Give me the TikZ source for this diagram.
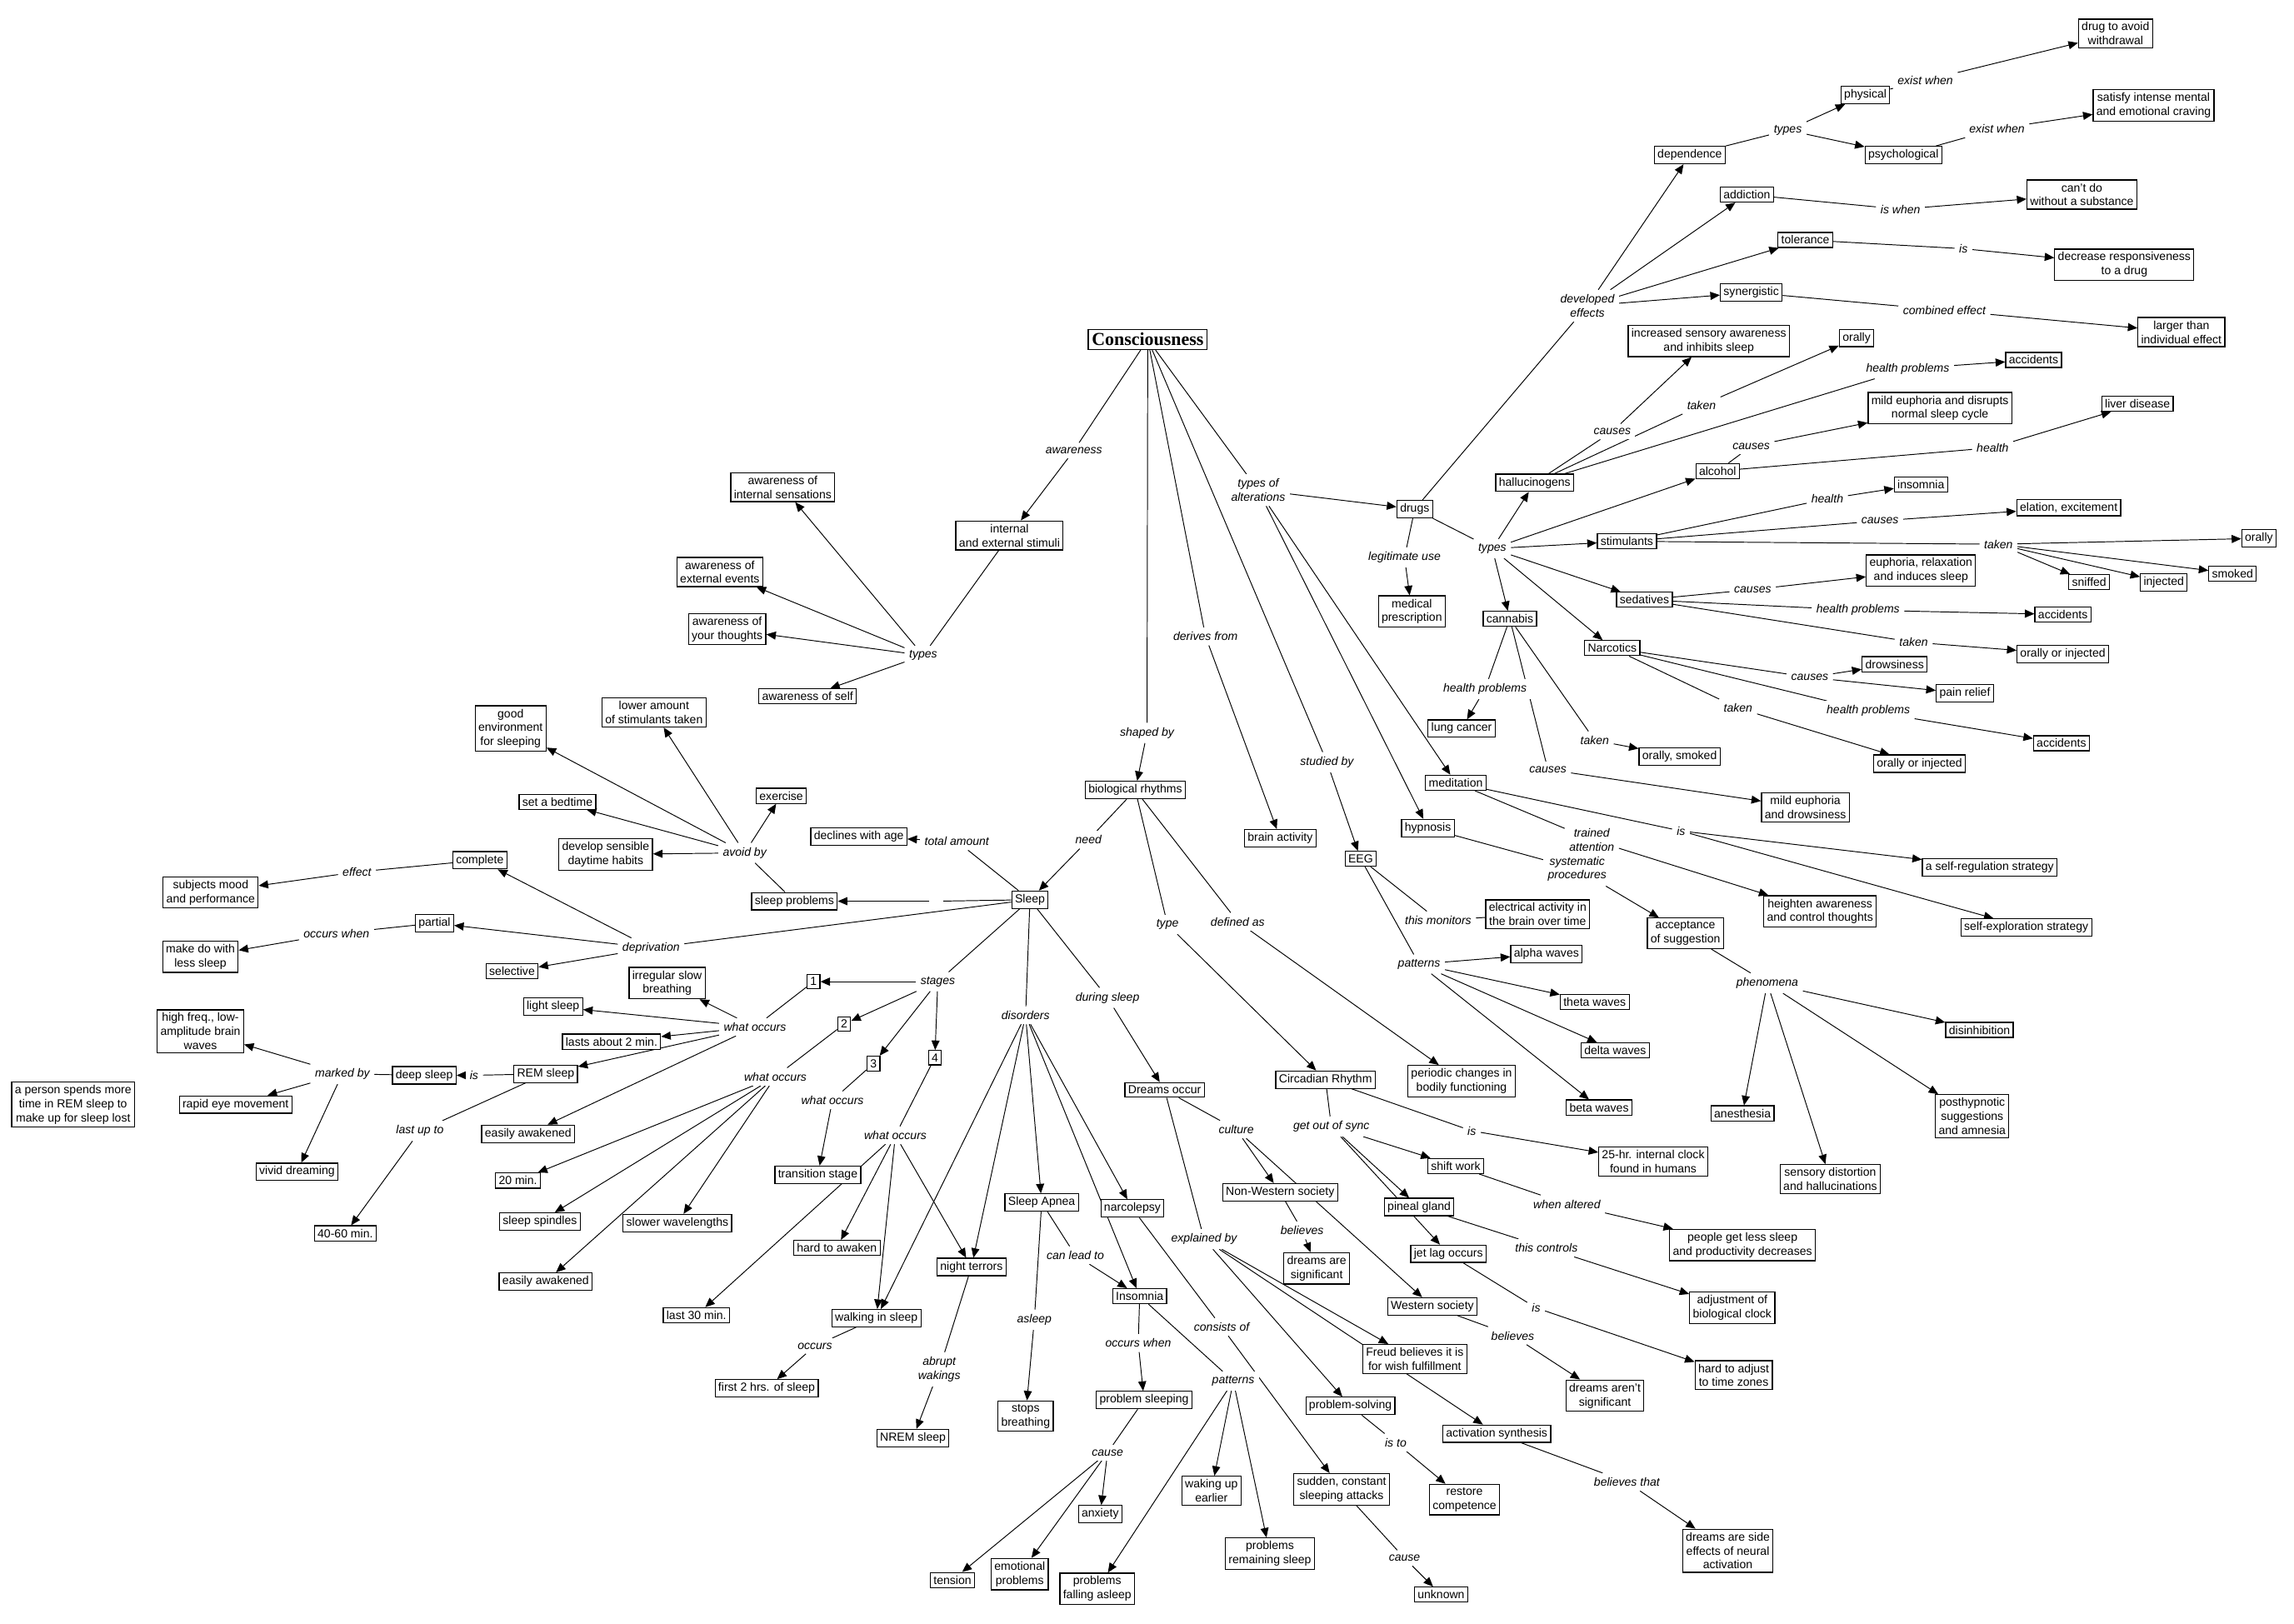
\documentclass[tikz,border=0pt]{standalone}
\usepackage{fontspec}
\setmainfont{Liberation Sans}
\newfontfamily\titlefont{Liberation Serif}
\usetikzlibrary{arrows.meta}
\pgfdeclarelayer{connlayer}
\pgfsetlayers{connlayer,main}
\newcommand\fsz{\fontsize{8}{9.6}\selectfont}
\tikzset{
 cpt/.style={draw, fill=white, line width=0.7pt, inner sep=2.2pt, align=center, font=\fsz},
 lbl/.style={fill=white, inner sep=3pt, align=center, font=\fsz\itshape},
 ln/.style={line width=0.55pt},
 ar/.style={line width=0.55pt, -{Triangle[length=6.5pt,width=5.5pt]}},
}
\newcommand\myL[2]{\draw[ln] (#1) -- (#2);}
\newcommand\myA[2]{\foreach \tgt in {#2}{\draw[ar] (#1) -- (\tgt);}}
\newcommand\myLink[3]{\myL{#1}{#2}\myA{#2}{#3}}
\begin{document}
\begin{tikzpicture}[x=1pt,y=-1pt]
\begin{pgfonlayer}{connlayer}
\path[use as bounding box, fill=white] (0,0) rectangle (1568,1110);
\end{pgfonlayer}
% ---------------- concepts ----------------
\node[cpt, font=\titlefont\bfseries\fontsize{12.5}{14}\selectfont, inner sep=2.5pt] (C) at (784.5,232) {Consciousness};
\node[cpt] (ies) at (690,366) {internal\\ and external stimuli};
\node[cpt] (ais) at (535,333) {awareness of\\internal sensations};
\node[cpt] (aee) at (492,391) {awareness of\\external events};
\node[cpt] (ayt) at (497,430) {awareness of\\your thoughts};
\node[cpt] (aself) at (552,476) {awareness of self};
\node[cpt] (genv) at (349,498) {good\\environment\\for sleeping};
\node[cpt] (lowst) at (447,487) {lower amount\\of stimulants taken};
\node[cpt] (bed) at (381,548) {set a bedtime};
\node[cpt] (habits) at (414,584) {develop sensible\\daytime habits};
\node[cpt] (exer) at (534,544) {exercise};
\node[cpt] (decl) at (587,572) {declines with age};
\node[cpt] (sprob) at (543,616) {sleep problems};
\node[cpt] (Sleep) at (704,615) {Sleep};
\node[cpt] (compl) at (328,588) {complete};
\node[cpt] (mood) at (144,610) {subjects mood\\and performance};
\node[cpt] (part) at (297,631) {partial};
\node[cpt] (makedo) at (137,654) {make do with\\less sleep};
\node[cpt] (sel) at (350,664) {selective};
\node[cpt] (irreg) at (456,672) {irregular slow\\breathing};
\node[cpt] (light) at (378,688) {light sleep};
\node[cpt] (lasts) at (418,712) {lasts about 2 min.};
\node[cpt] (rem) at (373,734) {REM sleep};
\node[cpt] (deep) at (290,735) {deep sleep};
\node[cpt] (hifreq) at (137,705) {high freq., low-\\amplitude brain\\waves};
\node[cpt] (rapid) at (161,755) {rapid eye movement};
\node[cpt] (vivid) at (203,801) {vivid dreaming};
\node[cpt] (person) at (50,755) {a person spends more\\time in REM sleep to\\make up for sleep lost};
\node[cpt] (easy1) at (361,775) {easily awakened};
\node[cpt] (m20) at (354,807) {20 min.};
\node[cpt] (m4060) at (236,843) {40-60 min.};
\node[cpt] (spind) at (369,835) {sleep spindles};
\node[cpt] (slower) at (463,836) {slower wavelengths};
\node[cpt] (easy2) at (373,876) {easily awakened};
\node[cpt] (s1) at (556,671) {1};
\node[cpt] (s2) at (577,700) {2};
\node[cpt] (s3) at (597,727) {3};
\node[cpt] (s4) at (639,723) {4};
\node[cpt] (trans) at (559,803) {transition stage};
\node[cpt] (hard) at (572,853) {hard to awaken};
\node[cpt] (l30) at (476,899) {last 30 min.};
\node[cpt] (walk) at (599,901) {walking in sleep};
\node[cpt] (first2) at (524,949) {first 2 hrs. of sleep};
\node[cpt] (nightt) at (664,866) {night terrors};
\node[cpt] (nrem) at (624,983) {NREM sleep};
\node[cpt] (apnea) at (712,822) {Sleep Apnea};
\node[cpt] (stops) at (701,968) {stops\\breathing};
\node[cpt] (narco) at (774,826) {narcolepsy};
\node[cpt] (insom) at (779,886) {Insomnia};
\node[cpt] (probsl) at (782,957) {problem sleeping};
\node[cpt] (tension) at (651,1080) {tension};
\node[cpt] (emot) at (697,1076) {emotional\\problems};
\node[cpt] (anx) at (752,1035) {anxiety};
\node[cpt] (pfall) at (750,1086) {problems\\falling asleep};
\node[cpt] (wake) at (828,1019) {waking up\\earlier};
\node[cpt] (prem) at (868,1062) {problems\\remaining sleep};
\node[cpt] (sudden) at (917,1018) {sudden, constant\\sleeping attacks};
\node[cpt] (unknown) at (985,1090) {unknown};
\node[cpt] (dreams) at (796,745) {Dreams occur};
\node[cpt] (nonw) at (875,815) {Non-Western society};
\node[cpt] (dsig) at (900,867) {dreams are\\significant};
\node[cpt] (west) at (979,893) {Western society};
\node[cpt] (dnsig) at (1097,954) {dreams aren't\\significant};
\node[cpt] (freud) at (967,929) {Freud believes it is\\for wish fulfillment};
\node[cpt] (probsolv) at (923,961) {problem-solving};
\node[cpt] (restore) at (1001,1025) {restore\\competence};
\node[cpt] (actsyn) at (1023,980) {activation synthesis};
\node[cpt] (side) at (1181,1060) {dreams are side\\effects of neural\\activation};
\node[cpt] (circ) at (906,738) {Circadian Rhythm};
\node[cpt] (h25) at (1130,794) {25-hr. internal clock\\found in humans};
\node[cpt] (shift) at (995,797) {shift work};
\node[cpt] (pineal) at (970,825) {pineal gland};
\node[cpt] (jetlag) at (990,857) {jet lag occurs};
\node[cpt] (people) at (1191,851) {people get less sleep\\and productivity decreases};
\node[cpt] (adjust) at (1184,894) {adjustment of\\biological clock};
\node[cpt] (hardadj) at (1185,940) {hard to adjust\\to time zones};
\node[cpt] (bio) at (776,540) {biological rhythms};
\node[cpt] (brain) at (875,573) {brain activity};
\node[cpt] (periodic) at (999,739) {periodic changes in\\bodily functioning};
\node[cpt] (eeg) at (930,587) {EEG};
\node[cpt] (elec) at (1051,625) {electrical activity in\\the brain over time};
\node[cpt] (alpha) at (1057,652) {alpha waves};
\node[cpt] (theta) at (1090,685) {theta waves};
\node[cpt] (delta) at (1104,718) {delta waves};
\node[cpt] (beta) at (1093,757) {beta waves};
\node[cpt] (hyp) at (976,566) {hypnosis};
\node[cpt] (med) at (995,535) {meditation};
\node[cpt] (accept) at (1152,638) {acceptance\\of suggestion};
\node[cpt] (heighten) at (1244,623) {heighten awareness\\and control thoughts};
\node[cpt] (selfreg) at (1360,593) {a self-regulation strategy};
\node[cpt] (selfexp) at (1385,634) {self-exploration strategy};
\node[cpt] (disinh) at (1353,704) {disinhibition};
\node[cpt] (anest) at (1191,761) {anesthesia};
\node[cpt] (sensd) at (1251,806) {sensory distortion\\and hallucinations};
\node[cpt] (posth) at (1348,763) {posthypnotic\\suggestions\\and amnesia};
\node[cpt] (drugs) at (967,348) {drugs};
\node[cpt] (medpre) at (965,418) {medical\\prescription};
\node[cpt] (cann) at (1032,423) {cannabis};
\node[cpt] (lung) at (999,498) {lung cancer};
\node[cpt] (orsm) at (1148,517) {orally, smoked};
\node[cpt] (mildd) at (1234,552) {mild euphoria\\and drowsiness};
\node[cpt] (hall) at (1049,330) {hallucinogens};
\node[cpt] (incr) at (1168,233) {increased sensory awareness\\and inhibits sleep};
\node[cpt] (orally1) at (1269,231) {orally};
\node[cpt] (acc1) at (1390,246) {accidents};
\node[cpt] (alc) at (1174,322) {alcohol};
\node[cpt] (milde) at (1326,279) {mild euphoria and disrupts\\normal sleep cycle};
\node[cpt] (liver) at (1461,276) {liver disease};
\node[cpt] (stim) at (1112,370) {stimulants};
\node[cpt] (insomnia2) at (1313,331) {insomnia};
\node[cpt] (elat) at (1414,347) {elation, excitement};
\node[cpt] (orally2) at (1544,368) {orally};
\node[cpt] (sniff) at (1428,398) {sniffed};
\node[cpt] (inj) at (1479,398) {injected};
\node[cpt] (smoked) at (1526,392) {smoked};
\node[cpt] (sed) at (1124,410) {sedatives};
\node[cpt] (euph) at (1313,390) {euphoria, relaxation\\and induces sleep};
\node[cpt] (acc2) at (1410,420) {accidents};
\node[cpt] (ori1) at (1410,447) {orally or injected};
\node[cpt] (narc) at (1102,443) {Narcotics};
\node[cpt] (drows) at (1295,454) {drowsiness};
\node[cpt] (pain) at (1343,474) {pain relief};
\node[cpt] (acc3) at (1409,508) {accidents};
\node[cpt] (ori2) at (1312,522) {orally or injected};
\node[cpt] (dep) at (1155,106) {dependence};
\node[cpt] (phys) at (1275,65) {physical};
\node[cpt] (psych) at (1301,106) {psychological};
\node[cpt] (drugav) at (1446,23) {drug to avoid\\withdrawal};
\node[cpt] (satisfy) at (1472,72) {satisfy intense mental\\and emotional craving};
\node[cpt] (addic) at (1194,133) {addiction};
\node[cpt] (cant) at (1423,133) {can't do\\without a substance};
\node[cpt] (toler) at (1234,164) {tolerance};
\node[cpt] (decr) at (1452,181) {decrease responsiveness\\to a drug};
\node[cpt] (syn) at (1197,200) {synergistic};
\node[cpt] (larger) at (1491,227) {larger than\\individual effect};
% ---------------- linking phrases ----------------
\node[lbl] (lAw) at (734,308) {awareness};
\node[lbl] (lTy1) at (631,448) {types};
\node[lbl] (lAvoid) at (509,583) {avoid by};
\node[lbl] (lTotal) at (654,575) {total amount};
\node[lbl] (lNeed) at (744,574) {need};
\node[lbl] (lShaped) at (784,501) {shaped by};
\node[lbl] (lDer) at (824,435) {derives from};
\node[lbl] (lStud) at (907,521) {studied by};
\node[lbl] (lToa) at (860,335) {types of\\alterations};
\node[lbl] (lLeg) at (960,381) {legitimate use};
\node[lbl] (lTy2) at (1020,375) {types};
\node[lbl] (lDev) at (1085,209) {developed\\effects};
\node[lbl] (lTy3) at (1222,89) {types};
\node[lbl] (lEx1) at (1316,55) {exist when};
\node[lbl] (lEx2) at (1365,88) {exist when};
\node[lbl] (lIsw) at (1299,143) {is when};
\node[lbl] (lIsT) at (1342,170) {is};
\node[lbl] (lComb) at (1329,212) {combined effect};
\node[lbl] (lCauH) at (1102,295) {causes};
\node[lbl] (lTakH) at (1163,277) {taken};
\node[lbl] (lHpH) at (1304,252) {health problems};
\node[lbl] (lCauA) at (1197,305) {causes};
\node[lbl] (lHeA) at (1362,306) {health};
\node[lbl] (lHeS) at (1249,341) {health};
\node[lbl] (lCauS) at (1285,356) {causes};
\node[lbl] (lTakS) at (1366,372) {taken};
\node[lbl] (lCauSe) at (1198,403) {causes};
\node[lbl] (lHpSe) at (1270,417) {health problems};
\node[lbl] (lTakSe) at (1308,439) {taken};
\node[lbl] (lCauN) at (1237,463) {causes};
\node[lbl] (lHpN) at (1277,486) {health problems};
\node[lbl] (lTakN) at (1188,484) {taken};
\node[lbl] (lHpC) at (1015,471) {health problems};
\node[lbl] (lTakC) at (1090,506) {taken};
\node[lbl] (lCauC) at (1058,526) {causes};
\node[lbl] (lTrain) at (1088,574) {trained\\attention};
\node[lbl] (lIsM) at (1149,568) {is};
\node[lbl] (lSys) at (1078,594) {systematic\\procedures};
\node[lbl] (lPhen) at (1208,672) {phenomena};
\node[lbl] (lMon) at (983,629) {this monitors};
\node[lbl] (lPatE) at (970,659) {patterns};
\node[lbl] (lDef) at (846,630) {defined as};
\node[lbl] (lType) at (798,632) {type};
\node[lbl] (lIsC) at (1006,773) {is};
\node[lbl] (lSync) at (910,770) {get out of sync};
\node[lbl] (lWhen) at (1071,823) {when altered};
\node[lbl] (lCtrl) at (1057,853) {this controls};
\node[lbl] (lIsJ) at (1050,894) {is};
\node[lbl] (lCult) at (845,772) {culture};
\node[lbl] (lBel1) at (890,841) {believes};
\node[lbl] (lBel2) at (1034,913) {believes};
\node[lbl] (lExpl) at (823,847) {explained by};
\node[lbl] (lCons) at (835,907) {consists of};
\node[lbl] (lIsTo) at (954,986) {is to};
\node[lbl] (lBelT) at (1112,1013) {believes that};
\node[lbl] (lCauU) at (960,1065) {cause};
\node[lbl] (lPatI) at (843,944) {patterns};
\node[lbl] (lOccW) at (778,918) {occurs when};
\node[lbl] (lCauP) at (757,993) {cause};
\node[lbl] (lCan) at (735,858) {can lead to};
\node[lbl] (lAsl) at (707,902) {asleep};
\node[lbl] (lAbr) at (642,936) {abrupt\\wakings};
\node[lbl] (lOcc) at (557,920) {occurs};
\node[lbl] (lDur) at (757,682) {during sleep};
\node[lbl] (lDis) at (701,694) {disorders};
\node[lbl] (lStag) at (641,671) {stages};
\node[lbl] (lWo1) at (516,702) {what occurs};
\node[lbl] (lWo2) at (530,736) {what occurs};
\node[lbl] (lWo3) at (569,752) {what occurs};
\node[lbl] (lWo4) at (612,776) {what occurs};
\node[lbl] (lLast) at (287,773) {last up to};
\node[lbl] (lIsR) at (324,735) {is};
\node[lbl] (lMark) at (234,734) {marked by};
\node[lbl] (lDepr) at (445,648) {deprivation};
\node[lbl] (lEff) at (244,596) {effect};
\node[lbl] (lOccP) at (230,638) {occurs when};
\node[lbl, minimum width=9pt, minimum height=6pt] (lEmpty) at (640,616) {};
% ---------------- connectors (drawn behind the boxes) ----------------
\begin{pgfonlayer}{connlayer}
\myLink{C}{lAw}{ies}
\myLink{ies}{lTy1}{ais,aee,ayt,aself}
\myLink{C}{lShaped}{bio}
\myLink{C}{lDer}{brain}
\myLink{C}{lStud}{eeg}
\myLink{C}{lToa}{drugs,med,hyp}
\myLink{bio}{lNeed}{Sleep}
\myLink{bio}{lType}{circ}
\myLink{bio}{lDef}{periodic}
\myLink{Sleep}{lTotal}{decl}
\myLink{Sleep}{lEmpty}{sprob}
\myLink{sprob}{lAvoid}{genv,lowst,bed,habits,exer}
\myLink{Sleep}{lDepr}{compl,part,sel}
\myLink{compl}{lEff}{mood}
\myLink{part}{lOccP}{makedo}
\myLink{Sleep}{lStag}{s1,s2,s3,s4}
\myLink{s1}{lWo1}{irreg,light,lasts,rem,easy1}
\myLink{rem}{lIsR}{deep}
\myLink{deep}{lMark}{hifreq,rapid,vivid}
\myLink{rem}{lLast}{m4060}
\myLink{s2}{lWo2}{m20,spind,slower,easy2}
\myLink{s3}{lWo3}{trans}
\myLink{s4}{lWo4}{l30,hard,walk,nightt}
\myLink{Sleep}{lDis}{walk,nightt,apnea,narco,insom}
\myLink{walk}{lOcc}{first2}
\myLink{nightt}{lAbr}{nrem}
\myLink{apnea}{lAsl}{stops}
\myLink{apnea}{lCan}{insom}
\myLink{narco}{lCons}{sudden}
\myLink{sudden}{lCauU}{unknown}
\myLink{insom}{lOccW}{probsl}
\myLink{probsl}{lCauP}{tension,emot,anx}
\myLink{insom}{lPatI}{wake,prem,pfall}
\myLink{Sleep}{lDur}{dreams}
\myLink{dreams}{lCult}{nonw,west}
\myLink{nonw}{lBel1}{dsig}
\myLink{west}{lBel2}{dnsig}
\myLink{dreams}{lExpl}{freud,probsolv,actsyn}
\myLink{probsolv}{lIsTo}{restore}
\myLink{actsyn}{lBelT}{side}
\myLink{circ}{lIsC}{h25}
\myLink{circ}{lSync}{shift,pineal,jetlag}
\myLink{shift}{lWhen}{people}
\myLink{pineal}{lCtrl}{adjust}
\myLink{jetlag}{lIsJ}{hardadj}
\myL{eeg}{lMon}
\myL{lMon}{elec}
\myLink{eeg}{lPatE}{alpha,theta,delta,beta}
\myLink{med}{lTrain}{heighten}
\myLink{med}{lIsM}{selfreg,selfexp}
\myLink{hyp}{lSys}{accept}
\myLink{accept}{lPhen}{disinh,anest,sensd,posth}
\myLink{drugs}{lLeg}{medpre}
\myLink{drugs}{lTy2}{hall,alc,stim,sed,narc,cann}
\myLink{drugs}{lDev}{dep,addic,toler,syn}
\myLink{dep}{lTy3}{phys,psych}
\myLink{phys}{lEx1}{drugav}
\myLink{psych}{lEx2}{satisfy}
\myLink{addic}{lIsw}{cant}
\myLink{toler}{lIsT}{decr}
\myLink{syn}{lComb}{larger}
\myLink{hall}{lCauH}{incr}
\myLink{hall}{lTakH}{orally1}
\myLink{hall}{lHpH}{acc1}
\myLink{alc}{lCauA}{milde}
\myLink{alc}{lHeA}{liver}
\myLink{stim}{lHeS}{insomnia2}
\myLink{stim}{lCauS}{elat}
\myLink{stim}{lTakS}{orally2,sniff,inj,smoked}
\myLink{sed}{lCauSe}{euph}
\myLink{sed}{lHpSe}{acc2}
\myLink{sed}{lTakSe}{ori1}
\myLink{narc}{lCauN}{drows,pain}
\myLink{narc}{lHpN}{acc3}
\myLink{narc}{lTakN}{ori2}
\myLink{cann}{lHpC}{lung}
\myLink{cann}{lCauC}{mildd}
\myLink{cann}{lTakC}{orsm}
\end{pgfonlayer}
\end{tikzpicture}
\end{document}
